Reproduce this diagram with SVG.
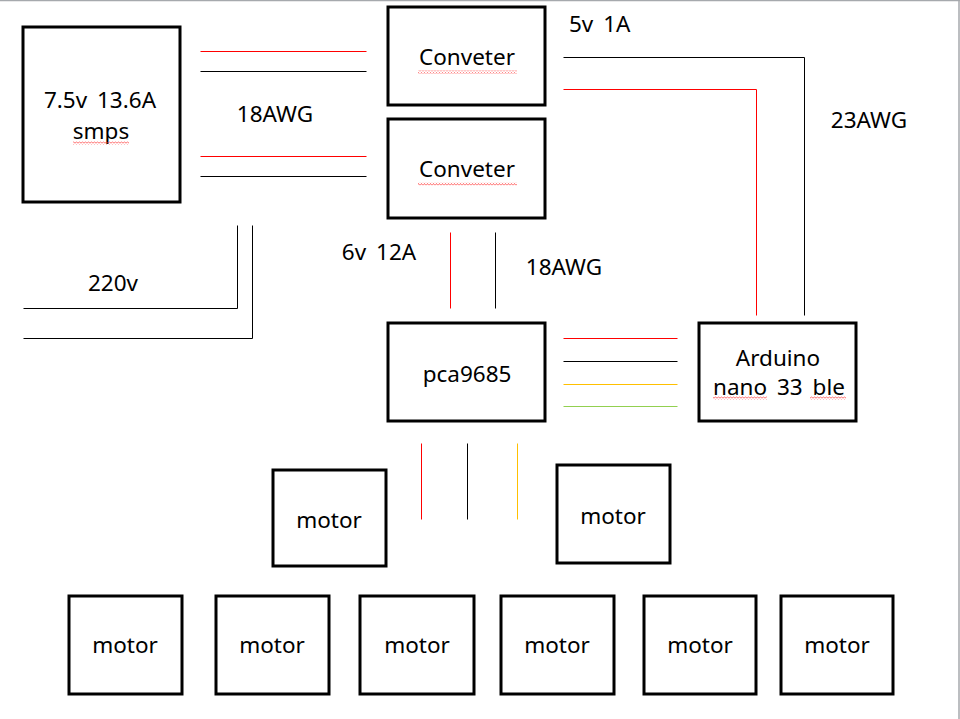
<svg xmlns="http://www.w3.org/2000/svg" width="960" height="719" viewBox="0 0 960 719">
<style>
.box{fill:#fff;stroke:#000;stroke-width:3}
.t{font-family:"Noto Sans","Open Sans",sans-serif;font-size:22.5px;word-spacing:4px;fill:#000;text-anchor:middle}
.ts{font-family:"Noto Sans","Open Sans",sans-serif;font-size:22.5px;word-spacing:4px;fill:#000}
.w{fill:none;stroke-width:1}
.k{stroke:#000}.r{stroke:#ff0000}.y{stroke:#ffc000}.g{stroke:#92d050}
.sq{fill:url(#squig)}
</style>
<defs>
<pattern id="squig" width="3" height="3" patternUnits="userSpaceOnUse">
<path d="M0,2.5 L1.5,0.5 L3,2.5" fill="none" stroke="#ff3030" stroke-width="0.7"/>
</pattern>
</defs>
<rect width="960" height="719" fill="#fff"/>
<line x1="0" y1="0.5" x2="960" y2="0.5" stroke="#a6a9ad" stroke-width="1.5"/>
<line x1="959" y1="0" x2="959" y2="719" stroke="#a6a9ad" stroke-width="1.5"/>

<g id="connectors" transform="translate(0.5,0.5)">
<line class="w r" x1="200" y1="51" x2="366" y2="51"/>
<line class="w k" x1="200" y1="71" x2="366" y2="71"/>
<line class="w r" x1="200" y1="156" x2="366" y2="156"/>
<line class="w k" x1="200" y1="176" x2="366" y2="176"/>
<polyline class="w k" points="23,308 237,308 237,225"/>
<polyline class="w k" points="23,338 252,338 252,225"/>
<polyline class="w k" points="563,57 804,57 804,315"/>
<polyline class="w r" points="563,89 756,89 756,315"/>
<line class="w r" x1="450" y1="232" x2="450" y2="308"/>
<line class="w k" x1="495" y1="232" x2="495" y2="308"/>
<line class="w r" x1="563" y1="338" x2="677" y2="338"/>
<line class="w k" x1="563" y1="361" x2="677" y2="361"/>
<line class="w y" x1="563" y1="384" x2="677" y2="384"/>
<line class="w g" x1="563" y1="406" x2="677" y2="406"/>
<line class="w r" x1="421" y1="443" x2="421" y2="519"/>
<line class="w k" x1="467" y1="443" x2="467" y2="519"/>
<line class="w y" x1="517" y1="443" x2="517" y2="519"/>
</g>

<g id="labels">
<text class="t" x="275" y="122">18AWG</text>
<text class="ts" x="569" y="32">5v 1A</text>
<text class="t" x="869" y="128">23AWG</text>
<text class="t" x="379" y="260">6v 12A</text>
<text class="t" x="564" y="275">18AWG</text>
<text class="t" x="113" y="291">220v</text>
</g>

<g id="smps">
<rect class="box" x="23" y="27" width="157" height="175"/>
<text class="t" x="100" y="108">7.5v 13.6A</text>
<text class="t" x="101" y="139">smps</text>
<rect class="sq" x="73" y="141.5" width="56" height="3"/>
</g>
<g id="converter1">
<rect class="box" x="388" y="7" width="157" height="98"/>
<text class="t" x="467" y="65">Conveter</text>
<rect class="sq" x="418" y="70.5" width="99" height="3"/>
</g>
<g id="converter2">
<rect class="box" x="388" y="119" width="157" height="99"/>
<text class="t" x="467" y="177">Conveter</text>
<rect class="sq" x="418" y="182.5" width="99" height="3"/>
</g>
<g id="pca9685">
<rect class="box" x="388" y="323" width="157" height="98"/>
<text class="t" x="467" y="382">pca9685</text>
</g>
<g id="arduino">
<rect class="box" x="699" y="323" width="157" height="98"/>
<text class="t" x="778" y="366">Arduino</text>
<text class="t" x="779" y="395">nano 33 ble</text>
<rect class="sq" x="713" y="396.5" width="54" height="3"/>
<rect class="sq" x="810" y="396.5" width="36" height="3"/>
</g>
<g id="motor1">
<rect class="box" x="273" y="470" width="113" height="96"/>
<text class="t" x="329" y="528">motor</text>
</g>
<g id="motor2">
<rect class="box" x="557" y="465" width="113" height="98"/>
<text class="t" x="613" y="524">motor</text>
</g>
<g id="motor3">
<rect class="box" x="69" y="596" width="113" height="98"/>
<text class="t" x="125" y="653">motor</text>
</g>
<g id="motor4">
<rect class="box" x="216" y="596" width="113" height="98"/>
<text class="t" x="272" y="653">motor</text>
</g>
<g id="motor5">
<rect class="box" x="360" y="596" width="114" height="98"/>
<text class="t" x="417" y="653">motor</text>
</g>
<g id="motor6">
<rect class="box" x="501" y="596" width="113" height="98"/>
<text class="t" x="557" y="653">motor</text>
</g>
<g id="motor7">
<rect class="box" x="644" y="596" width="112" height="98"/>
<text class="t" x="700" y="653">motor</text>
</g>
<g id="motor8">
<rect class="box" x="781" y="596" width="112" height="98"/>
<text class="t" x="837" y="653">motor</text>
</g>
</svg>
